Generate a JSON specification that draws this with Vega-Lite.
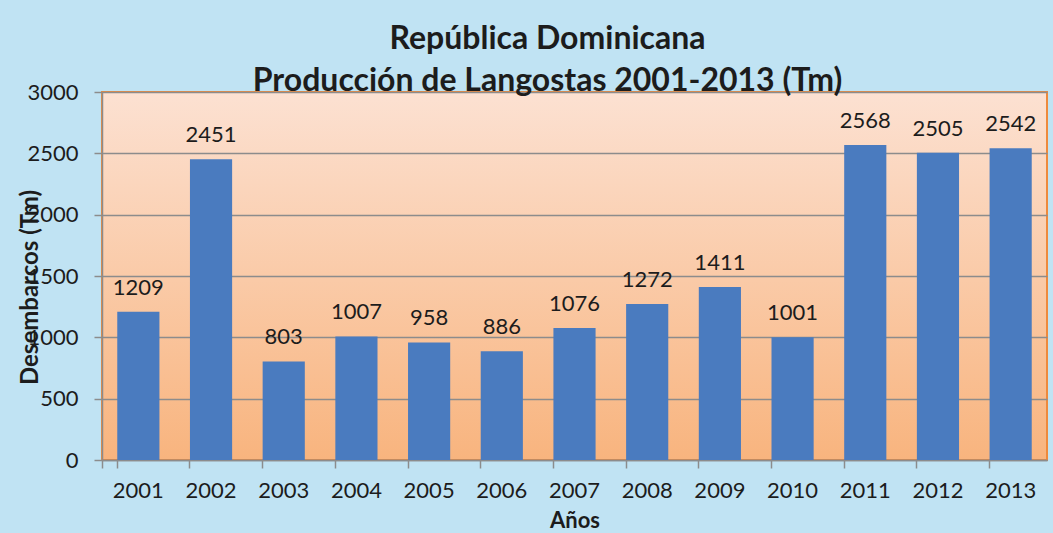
{
  "$schema": "https://vega.github.io/schema/vega-lite/v6.json",
  "width": 945,
  "height": 368,
  "autosize": {"type": "none"},
  "padding": {"left": 102, "top": 92, "right": 6, "bottom": 73},
  "background": "#c0e3f3",
  "title": {
    "text": ["República Dominicana", "Producción de Langostas 2001-2013 (Tm)"],
    "font": "Lato",
    "fontSize": 32,
    "fontWeight": "bold",
    "color": "#1c1c1c",
    "anchor": "middle",
    "lineHeight": 42,
    "dx": -27,
    "offset": -17
  },
  "view": {
    "stroke": "#ee8a3c",
    "strokeWidth": 2,
    "fill": {
      "gradient": "linear",
      "x1": 0, "y1": 0, "x2": 0, "y2": 1,
      "stops": [
        {"offset": 0, "color": "#fce1d2"},
        {"offset": 1, "color": "#f8b47e"}
      ]
    }
  },
  "data": {
    "values": [
      {"year": "2001", "tm": 1209},
      {"year": "2002", "tm": 2451},
      {"year": "2003", "tm": 803},
      {"year": "2004", "tm": 1007},
      {"year": "2005", "tm": 958},
      {"year": "2006", "tm": 886},
      {"year": "2007", "tm": 1076},
      {"year": "2008", "tm": 1272},
      {"year": "2009", "tm": 1411},
      {"year": "2010", "tm": 1001},
      {"year": "2011", "tm": 2568},
      {"year": "2012", "tm": 2505},
      {"year": "2013", "tm": 2542}
    ]
  },
  "encoding": {
    "x": {
      "field": "year",
      "type": "ordinal",
      "scale": {"paddingInner": 0.42, "paddingOuter": 0.21},
      "axis": {
        "title": "Años",
        "labelAngle": 0,
        "labelFont": "Lato",
        "labelFontSize": 22,
        "labelColor": "#1c1c1c",
        "labelBaseline": "middle",
        "labelPadding": 22,
        "bandPosition": 0,
        "tickExtra": true,
        "tickSize": 8,
        "tickColor": "#8c8c8c",
        "tickWidth": 1.5,
        "domainColor": "#8c8c8c",
        "domainWidth": 1.5,
        "grid": false,
        "titleFont": "Lato",
        "titleFontSize": 22,
        "titleFontWeight": "bold",
        "titleColor": "#1c1c1c",
        "titleY": 60,
        "titleBaseline": "middle"
      }
    },
    "y": {
      "field": "tm",
      "type": "quantitative",
      "scale": {"domain": [0, 3000]},
      "axis": {
        "title": "Desembarcos (Tm)",
        "values": [0, 500, 1000, 1500, 2000, 2500, 3000],
        "format": "d",
        "labelFont": "Lato",
        "labelFontSize": 22,
        "labelColor": "#1c1c1c",
        "labelPadding": 16,
        "tickSize": 8,
        "tickColor": "#8c8c8c",
        "tickWidth": 1.5,
        "domainColor": "#8c8c8c",
        "domainWidth": 1.5,
        "grid": true,
        "gridColor": "#8c8c8c",
        "gridWidth": 1.5,
        "titleFont": "Lato",
        "titleFontSize": 24,
        "titleFontWeight": "bold",
        "titleColor": "#1c1c1c",
        "titleX": -72,
        "titleY": 195,
        "titleAngle": -90,
        "titleAlign": "center",
        "titleBaseline": "middle"
      }
    }
  },
  "layer": [
    {"mark": {"type": "bar", "color": "#4a7bbf"}},
    {
      "mark": {
        "type": "text",
        "baseline": "alphabetic",
        "dy": -17,
        "font": "Lato",
        "fontSize": 22,
        "color": "#1c1c1c"
      },
      "encoding": {"text": {"field": "tm", "type": "quantitative", "format": "d"}}
    }
  ]
}
